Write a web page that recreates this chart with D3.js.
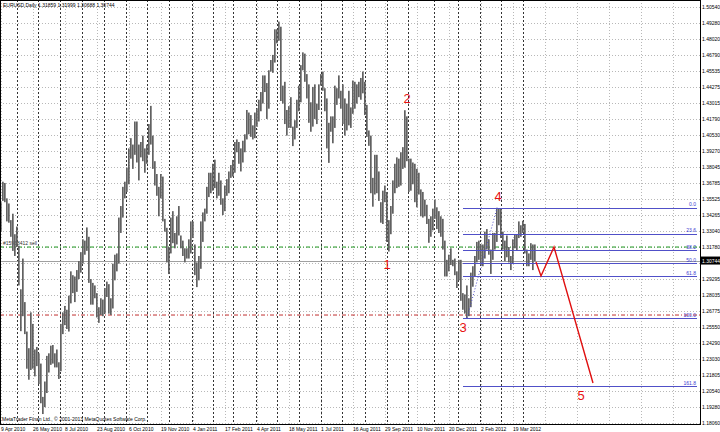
<!DOCTYPE html>
<html><head><meta charset="utf-8">
<script src="https://cdn.jsdelivr.net/npm/d3@7"></script>
<style>body{margin:0;background:#fff}svg{display:block}text{font-family:"Liberation Sans",Arial,sans-serif}</style>
</head><body><svg id="c" width="720" height="432"></svg>
<script>
const title = "EURUSD,Daily  1.31859 1.31999 1.30688 1.30744";
const copyright = "MetaTrader Finan Ltd., \u00a9 2001-2013 MetaQuotes Software Corp.";
// one entry per two daily bars (high / low)
const highs = [
1.3530,1.3690,1.3680,1.3560,1.3520,1.3390,1.3440,1.3280,1.3340,1.3190,
1.2850,1.3090,1.2750,1.2520,1.2390,1.2670,1.2580,1.2380,1.2400,1.2350,
1.2270,1.2010,1.2130,1.2330,1.2350,1.2410,1.2415,1.2350,1.2380,1.2280,
1.2580,1.2670,1.2720,1.2690,1.2800,1.2990,1.2960,1.2950,1.3000,1.3070,
1.3140,1.3240,1.3230,1.3333,1.3260,1.2930,1.2900,1.2880,1.2820,1.2710,
1.2780,1.2770,1.2860,1.2910,1.2890,1.2780,1.3050,1.3120,1.3130,1.3410,
1.3500,1.3650,1.3690,1.3800,1.3950,1.4030,1.3980,1.4160,1.4160,1.3980,
1.4000,1.4050,1.3950,1.3980,1.4140,1.4282,1.4050,1.3850,1.3750,1.3650,
1.3750,1.3730,1.3400,1.3330,1.3180,1.3410,1.3460,1.3290,1.3420,1.3500,
1.3270,1.3230,1.3170,1.3170,1.3240,1.3380,1.3380,1.3200,1.3060,1.3110,
1.3380,1.3450,1.3480,1.3650,1.3760,1.3760,1.3830,1.3862,1.3690,1.3760,
1.3700,1.3560,1.3660,1.3710,1.3770,1.3820,1.3860,1.4000,1.4020,1.4000,
1.3950,1.4010,1.4060,1.4250,1.4230,1.4210,1.4130,1.4230,1.4260,1.4330,
1.4390,1.4520,1.4520,1.4460,1.4560,1.4640,1.4680,1.4880,1.4880,1.4940,
1.4900,1.4440,1.4470,1.4250,1.4280,1.4350,1.4120,1.4170,1.4330,1.4440,
1.4600,1.4700,1.4690,1.4530,1.4450,1.4310,1.4430,1.4450,1.4300,1.4450,
1.4530,1.4550,1.4420,1.4340,1.4150,1.4200,1.4200,1.4440,1.4420,1.4520,
1.4400,1.4450,1.4340,1.4300,1.4400,1.4270,1.4480,1.4470,1.4450,1.4470,
1.4500,1.4550,1.4470,1.4290,1.4090,1.4050,1.3720,1.3900,1.3900,1.3770,
1.3530,1.3620,1.3660,1.3610,1.3390,1.3500,1.3700,1.3830,1.3880,1.3870,
1.3920,1.3960,1.4248,1.4200,1.3870,1.3870,1.3840,1.3830,1.3790,1.3760,
1.3630,1.3610,1.3550,1.3510,1.3400,1.3420,1.3480,1.3550,1.3490,1.3460,
1.3420,1.3400,1.3230,1.3080,1.3120,1.3170,1.3080,1.3090,1.2990,1.3080,
1.3080,1.2820,1.2810,1.2880,1.2780,1.2980,1.3030,1.3110,1.3220,1.3230,
1.3200,1.3200,1.3300,1.3320,1.3240,1.3160,1.3290,1.3290,1.3486,1.3480,
1.3480,1.3300,1.3230,1.3270,1.3180,1.3110,1.3240,1.3280,1.3280,1.3380,
1.3350,1.3385,1.3360,1.3160,1.3130,1.3210,1.3200,1.3200];
const lows = [
1.3300,1.3540,1.3530,1.3380,1.3370,1.3260,1.3150,1.3110,1.3180,1.2880,
1.2523,1.2640,1.2500,1.2230,1.2144,1.2220,1.2230,1.2170,1.2250,1.2110,
1.1960,1.1876,1.1930,1.2040,1.2200,1.2260,1.2270,1.2240,1.2240,1.2150,
1.2210,1.2500,1.2570,1.2540,1.2520,1.2740,1.2820,1.2750,1.2830,1.2930,
1.2980,1.3050,1.3120,1.3150,1.2900,1.2730,1.2730,1.2780,1.2630,1.2588,
1.2650,1.2640,1.2660,1.2790,1.2660,1.2650,1.2700,1.2920,1.2990,1.3050,
1.3290,1.3410,1.3560,1.3610,1.3670,1.3870,1.3790,1.3900,1.3840,1.3700,
1.3880,1.3850,1.3760,1.3830,1.3900,1.3980,1.3790,1.3660,1.3580,1.3420,
1.3560,1.3380,1.3300,1.3060,1.2969,1.3130,1.3210,1.3170,1.3200,1.3270,
1.3170,1.3110,1.3060,1.3090,1.3090,1.3130,1.3250,1.2960,1.2867,1.2920,
1.3010,1.3220,1.3380,1.3440,1.3570,1.3600,1.3620,1.3640,1.3560,1.3580,
1.3510,1.3430,1.3460,1.3580,1.3600,1.3720,1.3730,1.3760,1.3920,1.3830,
1.3770,1.3840,1.3920,1.4020,1.4060,1.4040,1.4020,1.4030,1.4120,1.4160,
1.4240,1.4300,1.4390,1.4180,1.4260,1.4550,1.4540,1.4620,1.4770,1.4790,
1.4320,1.4300,1.4140,1.4050,1.4110,1.4110,1.3968,1.4020,1.4110,1.4240,
1.4310,1.4560,1.4470,1.4340,1.4150,1.4080,1.4120,1.4180,1.4140,1.4250,
1.4440,1.4400,1.4240,1.3950,1.3837,1.4080,1.3990,1.4110,1.4290,1.4340,
1.4260,1.4140,1.4050,1.4090,1.4130,1.4110,1.4220,1.4260,1.4300,1.4350,
1.4330,1.4380,1.4210,1.4040,1.3970,1.3600,1.3495,1.3590,1.3600,1.3540,
1.3370,1.3360,1.3530,1.3220,1.3145,1.3280,1.3440,1.3600,1.3640,1.3650,
1.3660,1.3790,1.3800,1.3850,1.3610,1.3620,1.3670,1.3530,1.3490,1.3590,
1.3420,1.3410,1.3420,1.3360,1.3213,1.3260,1.3310,1.3400,1.3320,1.3290,
1.3260,1.3160,1.2950,1.2950,1.2990,1.3040,1.3030,1.2960,1.2860,1.2920,
1.2760,1.2690,1.2660,1.2624,1.2640,1.2710,1.2870,1.2950,1.3060,1.3080,
1.3040,1.3030,1.3090,1.3160,1.3120,1.2970,1.3080,1.3160,1.3220,1.3350,
1.3250,1.3160,1.3070,1.3100,1.3060,1.3000,1.3050,1.3170,1.3150,1.3250,
1.3260,1.3290,1.3130,1.3030,1.3030,1.3080,1.3000,1.3069];
const barsPerEntry = 2;
const priceTicks = [1.50540,1.49280,1.48020,1.46790,1.45535,1.44275,1.43015,1.41790,1.40530,1.39270,
  1.38045,1.36785,1.35525,1.34265,1.33040,1.31780,1.30520,1.29295,1.28035,1.26775,1.25550,1.24290,
  1.23030,1.21805,1.20540,1.19280,1.18060];
const dateLabels = ["9 Apr 2010","26 May 2010","8 Jul 2010","23 Aug 2010","6 Oct 2010","19 Nov 2010",
  "4 Jan 2011","17 Feb 2011","4 Apr 2011","18 May 2011","1 Jul 2011","16 Aug 2011","29 Sep 2011",
  "10 Nov 2011","20 Dec 2011","2 Feb 2012","19 Mar 2012"];
const labelStepBars = 32, firstLabelBar = 1;
const separatorBars = [17,38,60,82,104,126,147,169,192,213,233,256,277,299,321,342,365,387,408,434,458,480,501,523];
const lastPrice = 1.30744;
const orderPrice = 1.3180, orderText = "#15968412 sell";
const stopPrice = 1.2649;
const fibHigh = 1.3486, fibLow = 1.2624, fibStartBar = 463;
const fibLevels = [0, 23.6, 38.2, 50.0, 61.8, 100.0, 161.8];
const fibTrend = [[467, 1.2624], [497, 1.3486]];
const waveText = ["1","2","3","4","5"];
const waveBars = [387, 407, 463, 498, 581];
const wavePrices = [1.3040, 1.4336, 1.2548, 1.3578, 1.2017];
const projBars = [536, 541, 554, 593];
const projPrices = [1.3063, 1.2954, 1.3180, 1.2118];

const svg = d3.select("#c");
const W = 720, H = 432, plotR = 700, plotB = 424;
const x = d3.scaleLinear().domain([0, 700]).range([0, 700]);
const y = d3.scaleLinear().domain([1.18060, 1.50540]).range([423, 7]);

svg.append("rect").attr("width", W).attr("height", H).attr("fill", "#fff");

// horizontal grid
svg.append("g").selectAll("line").data(priceTicks).join("line")
  .attr("x1", 0).attr("x2", plotR).attr("y1", d => Math.round(y(d)) + 0.5).attr("y2", d => Math.round(y(d)) + 0.5)
  .attr("stroke", "#b8b8b8").attr("stroke-dasharray", "1,2");
// vertical grid at time labels (continues into future area)
const gridBars = d3.range(firstLabelBar, plotR, labelStepBars);
svg.append("g").selectAll("line").data(gridBars).join("line")
  .attr("x1", d => Math.round(x(d)) + 0.5).attr("x2", d => Math.round(x(d)) + 0.5).attr("y1", 0).attr("y2", plotB)
  .attr("stroke", "#b8b8b8").attr("stroke-dasharray", "1,2");
// period separators (months)
svg.append("g").selectAll("line").data(separatorBars).join("line")
  .attr("x1", d => Math.round(x(d)) + 0.5).attr("x2", d => Math.round(x(d)) + 0.5).attr("y1", 0).attr("y2", plotB)
  .attr("stroke", "#333").attr("stroke-dasharray", "2,2");

// order line, stop line, bid line
svg.append("line").attr("x1", 0).attr("x2", plotR).attr("y1", y(orderPrice)).attr("y2", y(orderPrice))
  .attr("stroke", "#1f9a1f").attr("stroke-dasharray", "4,2,1,2");
svg.append("text").attr("x", 3).attr("y", y(orderPrice) - 2).attr("font-size", 5).attr("fill", "#333").text(orderText);
svg.append("line").attr("x1", 0).attr("x2", plotR).attr("y1", y(stopPrice)).attr("y2", y(stopPrice))
  .attr("stroke", "#c03030").attr("stroke-dasharray", "4,2,1,2");
svg.append("line").attr("x1", 0).attr("x2", plotR).attr("y1", Math.round(y(lastPrice)) + 0.5).attr("y2", Math.round(y(lastPrice)) + 0.5)
  .attr("stroke", "#a0a0a0");

// price bars
svg.append("g").selectAll("rect").data(highs).join("rect")
  .attr("x", (d, i) => x(i * barsPerEntry))
  .attr("width", (d, i) => x((i + 1) * barsPerEntry) - x(i * barsPerEntry) - 0.3)
  .attr("y", d => y(d))
  .attr("height", (d, i) => Math.max(1, y(lows[i]) - y(d)))
  .attr("fill", "#616161");

// fibonacci
const fibPrice = lv => fibHigh - (fibHigh - fibLow) * lv / 100;
const fg = svg.append("g");
fg.selectAll("line").data(fibLevels).join("line")
  .attr("x1", x(fibStartBar)).attr("x2", 697)
  .attr("y1", d => Math.round(y(fibPrice(d))) + 0.5).attr("y2", d => Math.round(y(fibPrice(d))) + 0.5)
  .attr("stroke", "#5050c8");
fg.selectAll("text").data(fibLevels).join("text")
  .attr("x", 696).attr("y", d => y(fibPrice(d)) - 1.5).attr("text-anchor", "end")
  .attr("font-size", 5).attr("fill", "#3b3bd0").text(d => d.toFixed(1));
svg.append("line").attr("x1", x(fibTrend[0][0])).attr("y1", y(fibTrend[0][1]))
  .attr("x2", x(fibTrend[1][0])).attr("y2", y(fibTrend[1][1]))
  .attr("stroke", "#5050c8").attr("stroke-dasharray", "1,2");

// projection
svg.append("path").datum(projBars.map((b, i) => [x(b), y(projPrices[i])]))
  .attr("d", d3.line()).attr("fill", "none").attr("stroke", "#e01010").attr("stroke-width", 1.4);

// wave labels
svg.append("g").selectAll("text").data(waveText).join("text")
  .attr("x", (d, i) => x(waveBars[i])).attr("y", (d, i) => y(wavePrices[i]))
  .attr("text-anchor", "middle").attr("dominant-baseline", "central")
  .attr("font-size", 13).attr("fill", "#e81010").text(d => d);

// frame
svg.append("rect").attr("x", 0.5).attr("y", 0.5).attr("width", plotR).attr("height", plotB)
  .attr("fill", "none").attr("stroke", "#000");

// price axis labels
const yLast = y(lastPrice);
svg.append("g").selectAll("text").data(priceTicks.filter(p => Math.abs(y(p) - yLast) > 7)).join("text")
  .attr("x", 702).attr("y", d => y(d)).attr("dominant-baseline", "central")
  .attr("font-size", 5).attr("fill", "#000").text(d => d.toFixed(5));
svg.append("rect").attr("x", 701).attr("y", yLast - 4).attr("width", 19).attr("height", 8).attr("fill", "#000");
svg.append("text").attr("x", 702).attr("y", yLast).attr("dominant-baseline", "central")
  .attr("font-size", 5).attr("fill", "#fff").text(lastPrice.toFixed(5));

// time labels
svg.append("g").selectAll("text").data(dateLabels).join("text")
  .attr("x", (d, i) => x(firstLabelBar + i * labelStepBars)).attr("y", 431)
  .attr("font-size", 5).attr("fill", "#000").text(d => d);

// title, copyright
svg.append("text").attr("x", 3).attr("y", 7).attr("font-size", 5).attr("fill", "#000").text(title);
svg.append("text").attr("x", 2).attr("y", 421).attr("font-size", 5).attr("fill", "#000").text(copyright);
</script></body></html>
